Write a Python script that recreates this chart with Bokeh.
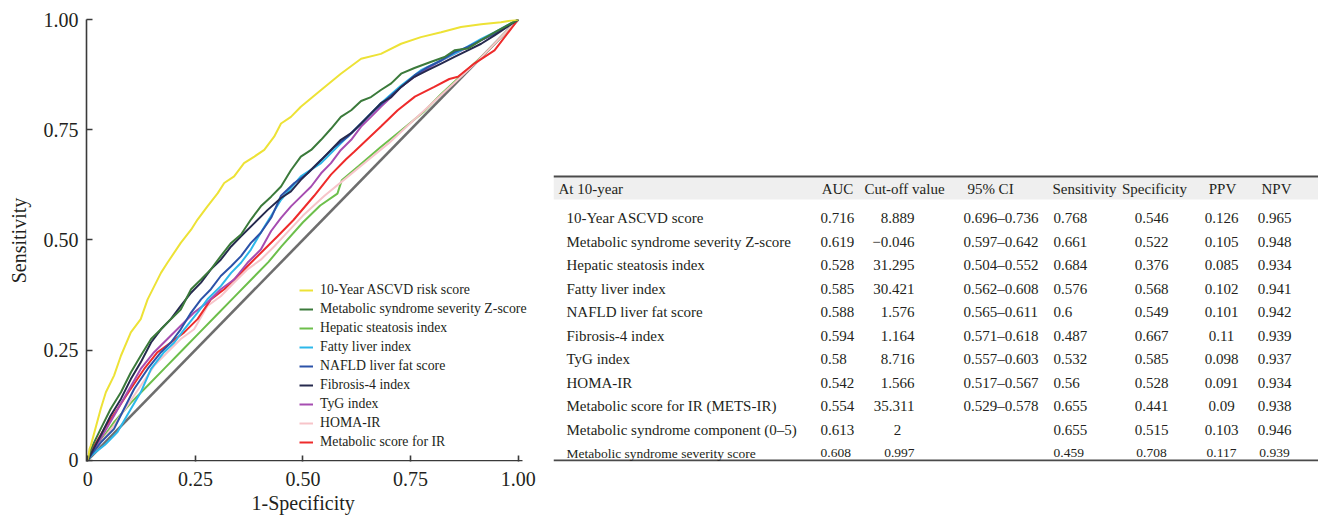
from bokeh.plotting import figure
from bokeh.models import Range1d, FixedTicker, Legend, LegendItem, ColumnDataSource, Title
from bokeh.layouts import row
from bokeh.embed import file_html
from bokeh.resources import INLINE
from bokeh.core.properties import value

FONT = "Liberation Serif"
INK = "#231f20"

# ---------------- ROC data ----------------
series_names = ["10-Year ASCVD risk score", "Metabolic syndrome severity Z-score",
                "Hepatic steatosis index", "Fatty liver index", "NAFLD liver fat score",
                "Fibrosis-4 index", "TyG index", "HOMA-IR", "Metabolic score for IR"]

fpr_ascvd = [0, .004, .007, .030, .042, .061, .077, .100, .123, .139, .170, .185, .216, .240, .255, .278,
             .302, .317, .340, .363, .387, .410, .433, .449, .472, .495, .542, .588, .635, .681, .728,
             .774, .821, .867, .914, .960, 1]
tpr_ascvd = [0, .025, .033, .116, .154, .192, .237, .290, .320, .365, .425, .448, .493, .523, .546, .576,
             .606, .629, .644, .674, .689, .704, .734, .764, .779, .802, .840, .877, .911, .922, .945,
             .960, .971, .983, .989, .994, 1]

fpr_msz = [0, .005, .015, .030, .053, .077, .100, .123, .147, .170, .193, .216, .240, .263, .286, .309,
           .333, .356, .379, .402, .426, .449, .472, .495, .519, .542, .565, .588, .612, .635, .658,
           .681, .705, .728, .759, .798, .829, .852, .883, .914, .945, 1]
tpr_msz = [0, .020, .041, .071, .116, .154, .199, .237, .275, .297, .320, .342, .388, .410, .433, .463,
           .493, .512, .546, .576, .598, .621, .658, .689, .704, .727, .752, .779, .794, .815, .824,
           .840, .855, .877, .890, .904, .915, .930, .934, .953, .971, 1]

fpr_hsi = [0, .02, .06, .10, .14, .18, .22, .26, .30, .34, .38, .42, .45, .50, .54, .58, .59, .63, .68,
           .73, .78, .82, .87, .92, 1]
tpr_hsi = [0, .03, .085, .13, .17, .21, .25, .29, .33, .37, .41, .45, .485, .54, .578, .605, .635, .668,
           .71, .75, .79, .83, .875, .92, 1]

fpr_fli = [0, .010, .040, .069, .100, .123, .147, .177, .201, .224, .255, .278, .309, .333, .356, .379,
           .406, .449, .495, .542, .588, .635, .681, .728, .774, .821, .867, .914, .945, 1]
tpr_fli = [0, .012, .035, .064, .116, .154, .207, .245, .267, .297, .335, .365, .395, .425, .448, .478,
           .523, .591, .644, .674, .719, .764, .810, .850, .885, .907, .930, .956, .971, 1]

fpr_nafld = [0, .010, .030, .061, .084, .108, .139, .170, .193, .216, .240, .263, .286, .309, .333, .356,
             .379, .402, .426, .449, .480, .511, .542, .573, .604, .635, .666, .697, .728, .759, .790,
             .821, .852, .883, .914, .945, 1]
tpr_nafld = [0, .015, .040, .071, .116, .162, .207, .245, .267, .297, .335, .365, .388, .418, .440, .463,
             .493, .516, .550, .600, .629, .651, .681, .711, .734, .764, .794, .821, .847, .873, .892,
             .907, .926, .938, .953, .968, 1]

fpr_fib4 = [0, .005, .030, .053, .077, .100, .123, .147, .170, .193, .216, .240, .263, .286, .309, .333,
            .356, .387, .418, .449, .472, .495, .519, .542, .565, .588, .612, .635, .658, .681, .705,
            .728, .759, .790, .821, .852, .883, .914, .945, 1]
tpr_fib4 = [0, .010, .056, .101, .139, .184, .222, .267, .297, .320, .350, .380, .403, .433, .455, .485,
            .508, .538, .568, .595, .610, .636, .659, .681, .704, .727, .742, .764, .787, .810, .824,
            .847, .870, .885, .900, .915, .930, .945, .964, 1]

fpr_tyg = [0, .005, .030, .061, .092, .123, .154, .185, .216, .247, .278, .309, .340, .371, .402, .426,
           .449, .472, .495, .519, .542, .565, .588, .612, .635, .658, .681, .705, .728, .759, .790,
           .821, .852, .883, .914, .945, 1]
tpr_tyg = [0, .010, .049, .101, .154, .207, .245, .275, .305, .335, .358, .388, .410, .448, .478, .520,
           .550, .576, .598, .621, .651, .674, .704, .727, .757, .779, .802, .824, .847, .870, .889,
           .907, .922, .937, .953, .968, 1]

fpr_homa = [0, .005, .030, .061, .092, .123, .154, .185, .216, .247, .278, .309, .340, .371, .402, .433,
            .457, .50, .55, .60, .65, .70, .75, .80, .85, .90, .95, 1]
tpr_homa = [0, .010, .041, .079, .124, .169, .214, .245, .275, .297, .350, .372, .403, .433, .455, .485,
            .510, .555, .600, .640, .680, .720, .765, .810, .855, .900, .950, 1]

fpr_mets = [0, .005, .015, .038, .069, .100, .131, .162, .193, .224, .255, .286, .317, .348, .379, .410,
            .441, .478, .526, .565, .600, .619, .681, .720, .760, .805, .840, .860, .898, .945, 1]
tpr_mets = [0, .012, .033, .071, .116, .162, .207, .245, .267, .290, .320, .365, .388, .418, .448, .478,
            .508, .545, .600, .648, .683, .700, .757, .794, .825, .847, .865, .870, .900, .930, 1]

ref_x = [0, 1]
ref_y = [0, 1]

axis_ticks = [0, 0.25, 0.5, 0.75, 1.0]
axis_tick_labels = ["0", "0.25", "0.50", "0.75", "1.00"]

# ---------------- table data ----------------
table_header = ["At 10-year", "AUC", "Cut-off value", "95% CI", "Sensitivity", "Specificity", "PPV", "NPV"]
table_method = ["10-Year ASCVD score", "Metabolic syndrome severity Z-score", "Hepatic steatosis index",
                "Fatty liver index", "NAFLD liver fat score", "Fibrosis-4 index", "TyG index", "HOMA-IR",
                "Metabolic score for IR (METS-IR)", "Metabolic syndrome component (0\u20135)",
                "Metabolic syndrome severity score"]
table_auc = ["0.716", "0.619", "0.528", "0.585", "0.588", "0.594", "0.58", "0.542", "0.554", "0.613", "0.608"]
table_cutoff = ["8.889", "\u22120.046", "31.295", "30.421", "1.576", "1.164", "8.716", "1.566", "35.311", "2", "0.997"]
table_ci = ["0.696\u20130.736", "0.597\u20130.642", "0.504\u20130.552", "0.562\u20130.608", "0.565\u20130.611",
            "0.571\u20130.618", "0.557\u20130.603", "0.517\u20130.567", "0.529\u20130.578", "", ""]
table_sens = ["0.768", "0.661", "0.684", "0.576", "0.6", "0.487", "0.532", "0.56", "0.655", "0.655", "0.459"]
table_spec = ["0.546", "0.522", "0.376", "0.568", "0.549", "0.667", "0.585", "0.528", "0.441", "0.515", "0.708"]
table_ppv = ["0.126", "0.105", "0.085", "0.102", "0.101", "0.11", "0.098", "0.091", "0.09", "0.103", "0.117"]
table_npv = ["0.965", "0.948", "0.934", "0.941", "0.942", "0.939", "0.937", "0.934", "0.938", "0.946", "0.939"]

# ---------------- layout constants ----------------
TOP, FRAME_H, BOTTOM = 19, 442, 58
LEFT, ROC_FRAME_W = 86, 467
PX_PER_UNIT = 430.4
X0 = -0.003
X_AXIS_END = 1.01
Y0 = -0.003

# ---------------- ROC figure ----------------
p = figure(frame_width=ROC_FRAME_W, frame_height=FRAME_H,
           x_range=Range1d(X0, X0 + ROC_FRAME_W / PX_PER_UNIT), y_range=Range1d(Y0, 1.0),
           min_border_left=LEFT, min_border_right=0, min_border_top=TOP, min_border_bottom=BOTTOM,
           output_backend="svg", toolbar_location=None)
p.xgrid.visible = False
p.ygrid.visible = False
p.outline_line_color = None
p.background_fill_color = "white"

for ax in (p.xaxis[0], p.yaxis[0]):
    ax.ticker = FixedTicker(ticks=axis_ticks)
    ax.major_label_overrides = {t: s for t, s in zip(axis_ticks, axis_tick_labels)}
    ax.major_tick_in = 6
    ax.major_tick_out = 0
    ax.minor_tick_line_color = None
    ax.axis_line_color = "#3a3a3a"
    ax.axis_line_width = 1.6
    ax.major_tick_line_color = "#3a3a3a"
    ax.major_tick_line_width = 1.6
    ax.major_label_text_font = FONT
    ax.major_label_text_font_size = "20px"
    ax.major_label_text_color = INK
    ax.axis_label_text_font = FONT
    ax.axis_label_text_font_size = "20px"
    ax.axis_label_text_font_style = "normal"
    ax.axis_label_text_color = INK

# the bottom axis line stops just past 1.00, as in the original
p.xaxis.axis_line_color = None
y_axis_pos = Y0 + 0.8 * (1.0 - Y0) / FRAME_H
p.line([X0, X_AXIS_END], [y_axis_pos, y_axis_pos], line_color="#3a3a3a", line_width=1.6)

p.yaxis.axis_label = "Sensitivity"
p.xaxis.major_label_standoff = 10
p.yaxis.major_label_standoff = 8
p.yaxis.axis_label_standoff = 11

# x-axis title centred under 0.50 (the frame is wider than the axis, to leave room for the legend)
x_title_w = 103
p.add_layout(Title(text="1-Specificity", align="left",
                   offset=(0.5 - X0) * PX_PER_UNIT - x_title_w / 2,
                   text_font=FONT, text_font_size="20px", text_font_style="normal",
                   text_color=INK, standoff=3), "below")

p.line(ref_x, ref_y, line_color="#6e6e6e", line_width=2.6)

curves = [
    (fpr_ascvd, tpr_ascvd, "#ede236"),
    (fpr_msz, tpr_msz, "#3b7a3b"),
    (fpr_hsi, tpr_hsi, "#6dbf4b"),
    (fpr_fli, tpr_fli, "#2db8ea"),
    (fpr_nafld, tpr_nafld, "#2c52a8"),
    (fpr_fib4, tpr_fib4, "#262a4e"),
    (fpr_tyg, tpr_tyg, "#a64db1"),
    (fpr_homa, tpr_homa, "#f7c4c9"),
    (fpr_mets, tpr_mets, "#ee2b2b"),
]
draw_order = [2, 7, 8, 6, 3, 4, 5, 1, 0]
renderers = {}
for i in draw_order:
    xs, ys, col = curves[i]
    renderers[i] = p.line(xs, ys, line_color=col, line_width=2)

legend = Legend(items=[LegendItem(label=series_names[i], renderers=[renderers[i]]) for i in range(len(series_names))],
                location=(213, 11), label_text_font=FONT, label_text_font_size="13.8px",
                label_text_color=INK, glyph_width=14, glyph_height=14, label_height=14,
                label_standoff=7, spacing=3, padding=0, margin=0,
                border_line_color=None, background_fill_alpha=0)
p.add_layout(legend)

# ---------------- table figure ----------------
T_LEFT, T_RIGHT = LEFT + ROC_FRAME_W, 1318
p2 = figure(frame_width=T_RIGHT - T_LEFT, frame_height=FRAME_H,
            x_range=Range1d(T_LEFT, T_RIGHT), y_range=Range1d(TOP + FRAME_H, TOP),
            min_border_left=0, min_border_right=0, min_border_top=TOP, min_border_bottom=BOTTOM,
            x_axis_location=None, y_axis_location=None,
            output_backend="svg", toolbar_location=None)
p2.grid.visible = False
p2.outline_line_color = None

RULE_TOP, HEAD_BOTTOM, RULE_BOTTOM = 176, 199, 460
HEAD_Y, ROW0, PITCH = 188, 217.5, 23.5

p2.quad(left=[T_LEFT], right=[T_RIGHT], top=[RULE_TOP + 1], bottom=[HEAD_BOTTOM],
        fill_color="#efefef", line_color=None)
p2.segment(x0=[T_LEFT, T_LEFT], x1=[T_RIGHT, T_RIGHT], y0=[RULE_TOP, RULE_BOTTOM], y1=[RULE_TOP, RULE_BOTTOM],
           line_color="#4a4a4a", line_width=2)

n = len(table_method)
row_y = [ROW0 + i * PITCH for i in range(n)]
row_size = ["15px"] * (n - 1) + ["13.5px"]

head_x = [558, 837, 904, 990, 1084, 1154, 1222, 1276]
head_align = ["left", "center", "center", "center", "center", "center", "center", "center"]
for hx, ht, ha in zip(head_x, table_header, head_align):
    p2.text(x=[hx], y=[HEAD_Y], text=[ht], text_font=value(FONT), text_font_size="15px",
            text_align=ha, text_baseline="middle", text_color=INK)


def column(texts, x, align):
    src = ColumnDataSource(dict(x=[x] * len(texts), y=row_y, t=texts, s=row_size))
    p2.text(x="x", y="y", text="t", source=src, text_font=value(FONT), text_font_size="s",
            text_align=align, text_baseline="middle", text_color=INK)


column(table_method, 566, "left")
column(table_auc, 820, "left")
cut_dec = [t if "." in t else "" for t in table_cutoff]
cut_int = [t if "." not in t else "" for t in table_cutoff]
column(cut_dec, 914, "right")
column(cut_int, 897, "center")
column(table_ci, 963, "left")
column(table_sens, 1053, "left")
column(table_spec, 1151, "center")
column(table_ppv, 1221, "center")
column(table_npv, 1274, "center")

layout = row(p, p2)
open("out.html", "w").write(file_html(layout, INLINE))
